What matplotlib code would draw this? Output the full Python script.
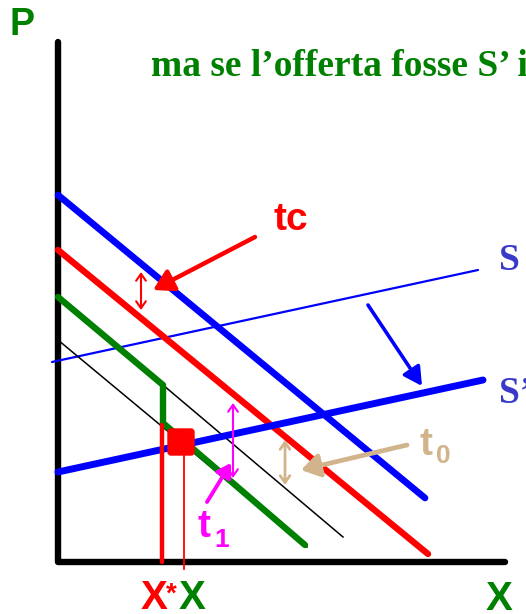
import matplotlib
matplotlib.use("Agg")
import matplotlib.pyplot as plt
from matplotlib.patches import FancyArrowPatch, FancyBboxPatch

# ---- data (diagram units, origin at the axes corner, P upward) ----
axis_x = [0, 0, 447]
axis_y = [520, 0, 0]
demand_x = [0, 367]            # blue D
demand_y = [367, 64]
demand_tc_x = [0, 370]         # red D - tc
demand_tc_y = [312, 8]
kinked_x = [0, 105, 105, 247]  # green kinked demand
kinked_y = [265, 177, 139, 17]
low_x = [0, 249]               # thin black lower demand
low_y = [222, 15]
cont_x = [105, 285]            # thin black continuation
cont_y = [177, 25]
supply_x = [-6, 420]           # S
supply_y = [200, 292]
supply2_x = [0, 425]           # S'
supply2_y = [90, 182]
eq_x, eq_y = 123, 120          # red square
xstar = 104
xeq = 126

fig = plt.figure(figsize=(5.26, 6.14), dpi=100)
ax = fig.add_axes([0, 0, 1, 1])
ax.set_xlim(-58, 468)
ax.set_ylim(-52, 562)
ax.axis("off")

RED = "#FF0000"; BLUE = "#0000FF"; GREEN = "#008000"; MAG = "#FF00FF"; TAN = "#D2B48C"
SBLUE = "#3A3AC8"
cap = dict(solid_capstyle="round", solid_joinstyle="round")

ax.plot(axis_x, axis_y, color="black", lw=4.6, zorder=2, **cap)
ax.plot(supply_x, supply_y, color=BLUE, lw=1.6, zorder=3, **cap)
ax.plot(low_x, low_y, color="black", lw=1.1, zorder=3)
ax.plot(cont_x, cont_y, color="black", lw=1.1, zorder=3)
ax.plot(demand_x, demand_y, color=BLUE, lw=4.8, zorder=4, **cap)
ax.plot(demand_tc_x, demand_tc_y, color=RED, lw=4.6, zorder=4, **cap)
ax.plot(kinked_x, kinked_y, color=GREEN, lw=4.6, zorder=5, **cap)
ax.plot(supply2_x, supply2_y, color=BLUE, lw=5.0, zorder=6, **cap)
ax.plot([xstar, xstar], [137, 0], color=RED, lw=3.2, zorder=6, **cap)
ax.plot([xeq, xeq], [eq_y, -7], color=RED, lw=1.3, zorder=6)
ax.add_patch(FancyBboxPatch((eq_x - 11.5, eq_y - 11.5), 23, 23,
                            boxstyle="round,pad=1.5,rounding_size=3",
                            fc=RED, ec=RED, zorder=7))

def dbl(x, y0, y1, c, lw=1.5):
    ax.add_patch(FancyArrowPatch((x, y0), (x, y1), arrowstyle="<->,head_length=5,head_width=3.5",
                                 color=c, lw=lw, zorder=8, shrinkA=0, shrinkB=0))

def ptr(p0, p1, c, lw=3.0, hl=11, hw=7):
    ax.add_patch(FancyArrowPatch(p0, p1, arrowstyle=f"-|>,head_length={hl},head_width={hw}",
                                 color=c, lw=lw, zorder=8, shrinkA=0, shrinkB=0,
                                 capstyle="round"))

dbl(83, 290, 252, RED)
ptr((197, 325), (95, 272), RED, lw=3.2, hl=12, hw=7)
ptr((310, 257), (364, 176), BLUE, lw=2.6, hl=11, hw=6)
dbl(175, 159, 84, MAG)
ptr((149, 60), (173, 99), MAG, lw=2.8, hl=8, hw=5)
dbl(227, 122, 77, TAN, lw=2.0)
ptr((349, 117), (243, 92), TAN, lw=3.4, hl=11, hw=7)

sans = dict(family="Liberation Sans", fontweight="bold")
serif = dict(family="Liberation Serif", fontweight="bold")
ax.text(-49, 527, "P", color=GREEN, fontsize=27, va="baseline", ha="left", **sans)
ax.text(93, 486, "ma se l\u2019offerta fosse S\u2019 i", color=GREEN, fontsize=27,
        va="baseline", ha="left", **serif)
ax.text(215, 332, "tc", color=RED, fontsize=28, va="baseline", ha="left", **sans)
ax.text(441, 292, "S", color=SBLUE, fontsize=27, va="baseline", ha="left", **serif)
ax.text(441, 159, "S\u2019", color=SBLUE, fontsize=27, va="baseline", ha="left", **serif)
ax.text(361, 107, "t", color=TAN, fontsize=28, va="baseline", ha="left", **sans)
ax.text(378, 99, "0", color=TAN, fontsize=19, va="baseline", ha="left", **sans)
ax.text(140, 25, "t", color=MAG, fontsize=28, va="baseline", ha="left", **sans)
ax.text(156, 15, "1", color=MAG, fontsize=19, va="baseline", ha="left", **sans)
ax.text(83, -47, "X", color=RED, fontsize=29, va="baseline", ha="left", **sans)
ax.text(108, -40, "*", color=RED, fontsize=20, va="baseline", ha="left", **sans)
ax.text(121, -47, "X", color=GREEN, fontsize=29, va="baseline", ha="left", **sans)
ax.text(428, -48, "X", color=GREEN, fontsize=29, va="baseline", ha="left", **sans)

fig.savefig("out.png", dpi=100)
